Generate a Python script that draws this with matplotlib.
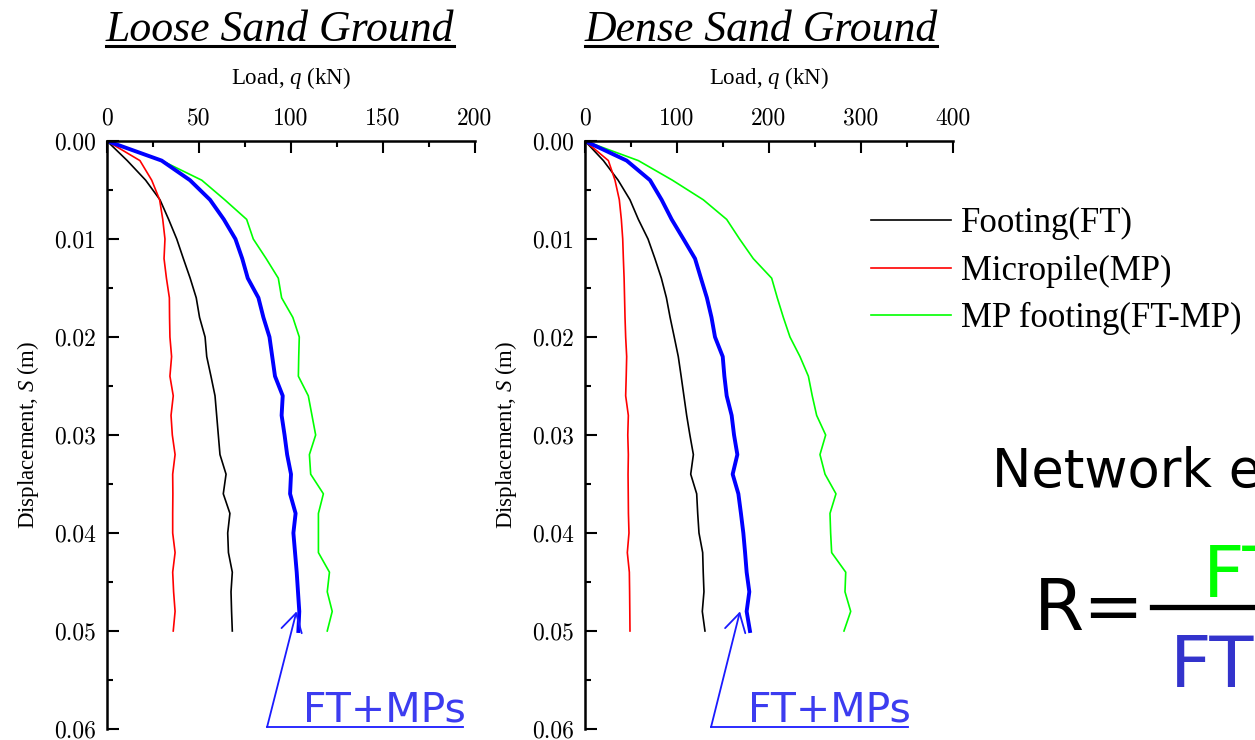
import numpy as np
import matplotlib
matplotlib.use('Agg')
import matplotlib.pyplot as plt
from matplotlib.lines import Line2D

## load-settlement curves

disp = [0.000, 0.002, 0.004, 0.006, 0.008, 0.010, 0.012, 0.014, 0.016, 0.018, 0.020, 0.022, 0.024,
        0.026, 0.028, 0.030, 0.032, 0.034, 0.036, 0.038, 0.040, 0.042, 0.044, 0.046, 0.048, 0.050]

loose_ft = [0, 11.0, 21.0, 28.8, 33.5, 37.9, 41.5, 45.2, 48.5, 50.3, 53.3, 54.2, 56.5,
            58.7, 59.6, 60.5, 61.4, 64.7, 63.2, 66.8, 65.6, 66.0, 68.1, 67.4, 67.7, 68.1]
loose_mp = [0, 17.9, 24.3, 28.6, 30.3, 31.5, 31.0, 32.3, 33.9, 34.0, 34.2, 35.1, 34.2,
            36.0, 34.8, 35.5, 37.0, 35.7, 35.8, 35.7, 35.7, 37.0, 35.7, 36.2, 37.0, 36.0]
loose_ftmp = [0, 29.7, 51.5, 64.0, 75.9, 79.5, 86.5, 93.1, 94.9, 101.0, 104.5, 104.2, 104.0,
              109.4, 111.4, 113.4, 110.0, 110.7, 117.6, 114.9, 114.9, 114.9, 120.9, 119.7, 122.4, 119.7]
loose_sum = [0, 29.7, 45.1, 56.0, 63.5, 69.8, 73.5, 76.5, 82.3, 85.0, 88.3, 89.8, 91.3,
             95.5, 94.9, 96.5, 97.9, 100.0, 99.5, 102.5, 101.3, 102.2, 103.1, 103.8, 104.5, 104.0]

dense_ft = [0, 20.0, 36.0, 48.9, 58.0, 68.5, 76.0, 83.0, 88.5, 92.5, 97.0, 101.4, 104.5,
            107.5, 110.5, 114.0, 117.8, 114.9, 121.4, 122.5, 123.9, 127.9, 128.5, 129.3, 127.5, 130.4]
dense_mp = [0, 25.4, 32.6, 37.3, 39.5, 41.0, 41.7, 42.5, 43.0, 43.5, 44.2, 45.3, 44.8,
            44.2, 47.1, 46.5, 47.1, 46.8, 47.0, 47.2, 47.8, 46.0, 48.2, 48.5, 48.7, 48.9]
dense_ftmp = [0, 58.0, 95.0, 128.6, 154.0, 168.0, 182.9, 202.9, 209.0, 215.6, 222.8, 233.7, 242.8,
              247.0, 251.8, 261.6, 255.4, 260.9, 272.8, 266.3, 267.0, 268.1, 283.4, 282.6, 288.8, 281.5]
dense_sum = [0, 45.3, 70.7, 83.3, 94.2, 107.0, 119.6, 126.0, 132.5, 137.5, 141.3, 149.7, 151.5,
             154.0, 159.4, 162.0, 165.6, 160.5, 166.7, 169.5, 172.1, 174.0, 175.7, 178.6, 175.7, 179.3]

labels = ['Footing(FT)', 'Micropile(MP)', 'MP footing(FT-MP)']
titles = ['Loose Sand Ground', 'Dense Sand Ground']

W, H = 1255, 740
serif = 'Liberation Serif'
ann_blue = '#3c3cf0'


def fx(px):
    return px / W


def fy(py):
    return 1 - py / H


def setup_axes(ax, xmax, xmajor, xminor):
    ax.set_xlim(0, xmax)
    ax.set_ylim(0.06, 0)
    ax.xaxis.tick_top()
    ax.xaxis.set_label_position('top')
    ax.set_xticks(np.arange(0, xmax + 1, xmajor))
    ax.set_xticks(np.arange(0, xmax + 1, xminor), minor=True)
    ax.set_yticks([0, 0.01, 0.02, 0.03, 0.04, 0.05, 0.06])
    ax.set_yticks([0.005, 0.015, 0.025, 0.035, 0.045, 0.055], minor=True)
    ax.yaxis.set_major_formatter(matplotlib.ticker.FormatStrFormatter('%.2f'))
    ax.tick_params(which='major', direction='in', length=8.5, width=1.5, labelsize=17,
                   pad=8, labelfontfamily='cmr10')
    ax.tick_params(which='minor', direction='in', length=4.5, width=1.5)
    ax.tick_params(axis='x', which='major', pad=8)
    for s in ['right', 'bottom']:
        ax.spines[s].set_visible(False)
    for s in ['left', 'top']:
        ax.spines[s].set_linewidth(1.8)
    ax.set_xlabel('Load, $q$ (kN)', family=serif, fontsize=16.5, labelpad=17)
    ax.set_ylabel('Displacement, $S$ (m)', family=serif, fontsize=16.5, labelpad=9)


plt.rcParams['mathtext.fontset'] = 'custom'
plt.rcParams['mathtext.it'] = 'Liberation Serif:italic'
plt.rcParams['mathtext.rm'] = 'Liberation Serif'

fig = plt.figure(figsize=(W / 100, H / 100), dpi=100)

ax1 = fig.add_axes([fx(107), fy(729), (475 - 107) / W, (729 - 141) / H])
ax2 = fig.add_axes([fx(585), fy(729), (953 - 585) / W, (729 - 141) / H])

handles = []
for ax, ft, mp, ftmp, tot in [(ax1, loose_ft, loose_mp, loose_ftmp, loose_sum),
                              (ax2, dense_ft, dense_mp, dense_ftmp, dense_sum)]:
    h1, = ax.plot(ft, disp, color='k', lw=1.2)
    h2, = ax.plot(mp, disp, color='#ff0000', lw=1.2)
    h3, = ax.plot(ftmp, disp, color='#00ff00', lw=1.2)
    ax.plot(tot, disp, color='#0000ff', lw=2.8)
    handles = [h1, h2, h3]

setup_axes(ax1, 200, 50, 25)
setup_axes(ax2, 400, 100, 50)

## titles with underline
for title, x0, x1 in [(titles[0], 106, 454), (titles[1], 585, 937)]:
    fig.text(fx((x0 + x1) / 2), fy(41), title, family=serif, style='italic', fontsize=31.5,
             ha='center', va='baseline')
    fig.add_artist(Line2D([fx(x0), fx(x1)], [fy(46), fy(46)], color='k', lw=2.2))

## FT+MPs call-outs
for ax, tip, tail, uend, tx in [(ax1, (103.0, 0.048), (87.0, 0.0598), 193.5, 106.5),
                                (ax2, (168.5, 0.048), (137.0, 0.0598), 351.0, 177.0)]:
    ax.annotate('', xy=tip, xytext=tail, annotation_clip=False,
                arrowprops=dict(arrowstyle='->,head_length=1.3,head_width=0.75',
                                color='#1a1aff', lw=1.3, shrinkA=0, shrinkB=0))
    ax.plot([tail[0], uend], [tail[1], tail[1]], color='#1a1aff', lw=1.3, clip_on=False)
    ax.text(tx, 0.0592, 'FT+MPs', family='DejaVu Sans', fontsize=29.5, color=ann_blue,
            va='baseline', ha='left', clip_on=False)

## legend
fig.legend(handles, labels, loc='upper left', bbox_to_anchor=(fx(871), fy(207)),
           frameon=False, prop={'family': serif, 'size': 25}, handlelength=2.3,
           handletextpad=0.3, labelspacing=0.42, borderpad=0, borderaxespad=0)

## network effect text on the right (runs off the edge as in the source)
fig.text(fx(992), fy(487), 'Network effect', family='DejaVu Sans', fontsize=38, va='baseline')
fig.text(fx(1034), fy(630), 'R=', family='DejaVu Sans', fontsize=52, va='baseline')
fig.add_artist(Line2D([fx(1152), fx(1300)], [fy(607), fy(607)], color='k', lw=3.8))
fig.text(fx(1203), fy(597), 'FT-MP', family='DejaVu Sans', fontsize=52, color='#00ff00', va='baseline')
fig.text(fx(1170), fy(687), 'FT+MPs', family='DejaVu Sans', fontsize=52, color='#3333cc', va='baseline')

plt.savefig('out.png', dpi=100)
